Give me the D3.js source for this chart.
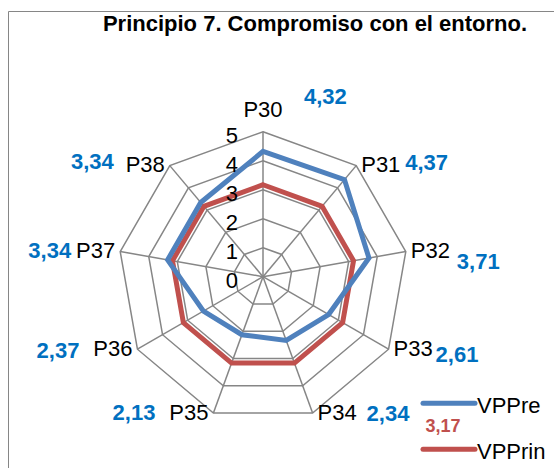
<!DOCTYPE html>
<html>
<head>
<meta charset="utf-8">
<script src="https://cdn.jsdelivr.net/npm/d3@7"></script>
<style>
  body { margin: 0; background: #fff; }
  svg { display: block; font-family: "Liberation Sans", Arial, sans-serif; }
</style>
</head>
<body>
<svg id="chart" width="554" height="468"></svg>
<script>
  // data
  var axes = ["P30", "P31", "P32", "P33", "P34", "P35", "P36", "P37", "P38"]
  var vppre = [4.32, 4.37, 3.71, 2.61, 2.34, 2.13, 2.37, 3.34, 3.34]
  var vpprin = [3.17, 3.17, 3.17, 3.17, 3.17, 3.17, 3.17, 3.17, 3.17]
  var ticks = [0, 1, 2, 3, 4, 5]
  var seriesNames = ["VPPre", "VPPrin"]

  // where the value labels were dragged to (offset from the outer vertex)
  var valueOffsets = [[41, -35], [49, -3], [51, 10], [47, 5], [54, 0], [-58, -1], [-58, 1], [-49, -1], [-56, -4]]

  var blue = "#4F81BD", red = "#C0504D", grid = "#868686"
  var cx = 263, cy = 276.7

  var svg = d3.select("#chart")

  // outer frame (runs off the right and bottom edges)
  svg.append("path").attr("d", "M8.5,470 V11.5 H560")
    .attr("fill", "none").attr("stroke", grid).attr("stroke-width", 1)

  svg.append("text").attr("x", 315).attr("y", 31).attr("text-anchor", "middle")
    .attr("font-size", 22).attr("font-weight", "bold").attr("fill", "#000")
    .text("Principio 7. Compromiso con el entorno.")

  var r = d3.scaleLinear().domain([0, 5]).range([0, 145])
  var ang = d3.scalePoint().domain(axes).range([0, 2 * Math.PI * 8 / 9])

  function px(a, v) { return cx + r(v) * Math.sin(ang(a)) }
  function py(a, v) { return cy - r(v) * Math.cos(ang(a)) }

  var g = svg.append("g").attr("transform", "translate(" + cx + "," + cy + ")")

  var radial = d3.lineRadial().curve(d3.curveLinearClosed)
    .angle(function(d) { return ang(d[0]) })
    .radius(function(d) { return r(d[1]) })

  // rings
  g.selectAll("path.ring").data(ticks.slice(1)).enter().append("path")
    .attr("class", "ring")
    .attr("d", function(t) { return radial(axes.map(function(a) { return [a, t] })) })
    .attr("fill", "none").attr("stroke", grid).attr("stroke-width", 1.5)

  // spokes
  g.selectAll("line.spoke").data(axes).enter().append("line")
    .attr("class", "spoke")
    .attr("x1", 0).attr("y1", 0)
    .attr("x2", function(a) { return r(5) * Math.sin(ang(a)) })
    .attr("y2", function(a) { return -r(5) * Math.cos(ang(a)) })
    .attr("stroke", grid).attr("stroke-width", 1.5)

  // series
  var series = [vpprin, vppre]
  var colors = [red, blue]
  series.forEach(function(vals, k) {
    g.append("path")
      .attr("d", radial(axes.map(function(a, i) { return [a, vals[i]] })))
      .attr("fill", "none").attr("stroke", colors[k]).attr("stroke-width", 5)
      .attr("stroke-linejoin", "miter")
  })

  // tick labels up the P30 axis
  svg.selectAll("text.tick").data(ticks).enter().append("text")
    .attr("class", "tick")
    .attr("x", cx - 25).attr("y", function(t) { return cy - r(t) + 3.5 })
    .attr("dy", "0.35em").attr("text-anchor", "end")
    .attr("font-size", 22).attr("fill", "#000")
    .text(function(t) { return t })

  // axis labels
  svg.selectAll("text.axis").data(axes).enter().append("text")
    .attr("class", "axis")
    .attr("x", function(a) {
      var s = Math.sin(ang(a))
      return px(a, 5) + (Math.abs(s) < 0.1 ? 0 : (s > 0 ? 5 : -5))
    })
    .attr("y", function(a, i) { return i === 0 ? py(a, 5) - 15 : py(a, 5) - 1 })
    .attr("dy", function(a, i) { return i === 0 ? "0" : "0.35em" })
    .attr("text-anchor", function(a) {
      var s = Math.sin(ang(a))
      return Math.abs(s) < 0.1 ? "middle" : (s > 0 ? "start" : "end")
    })
    .attr("font-size", 22).attr("fill", "#000")
    .text(function(a) { return a })

  // blue value labels
  svg.selectAll("text.val").data(vppre).enter().append("text")
    .attr("class", "val")
    .attr("x", function(v, i) { return px(axes[i], 5) + valueOffsets[i][0] })
    .attr("y", function(v, i) { return py(axes[i], 5) + valueOffsets[i][1] })
    .attr("dy", "0.35em")
    .attr("text-anchor", function(v, i) { return valueOffsets[i][0] > 0 ? "start" : "end" })
    .attr("font-size", 22).attr("font-weight", "bold").attr("fill", "#0070C0")
    .text(function(v) { return d3.format(".2f")(v).replace(".", ",") })

  // legend
  var leg = svg.append("g")
  var legY = [403.3, 449.3]
  seriesNames.forEach(function(name, k) {
    leg.append("line").attr("x1", 423).attr("x2", 475)
      .attr("y1", legY[k]).attr("y2", legY[k])
      .attr("stroke", k === 0 ? blue : red).attr("stroke-width", 5).attr("stroke-linecap", "round")
    leg.append("text").attr("x", 477).attr("y", legY[k] + 2).attr("dy", "0.35em")
      .attr("font-size", 22).attr("fill", "#000").text(name)
  })

  // single red label for the flat series
  svg.append("text").attr("x", 443).attr("y", 426).attr("dy", "0.35em")
    .attr("text-anchor", "middle").attr("font-size", 18).attr("font-weight", "bold")
    .attr("fill", red).text(d3.format(".2f")(vpprin[0]).replace(".", ","))
</script>
</body>
</html>
